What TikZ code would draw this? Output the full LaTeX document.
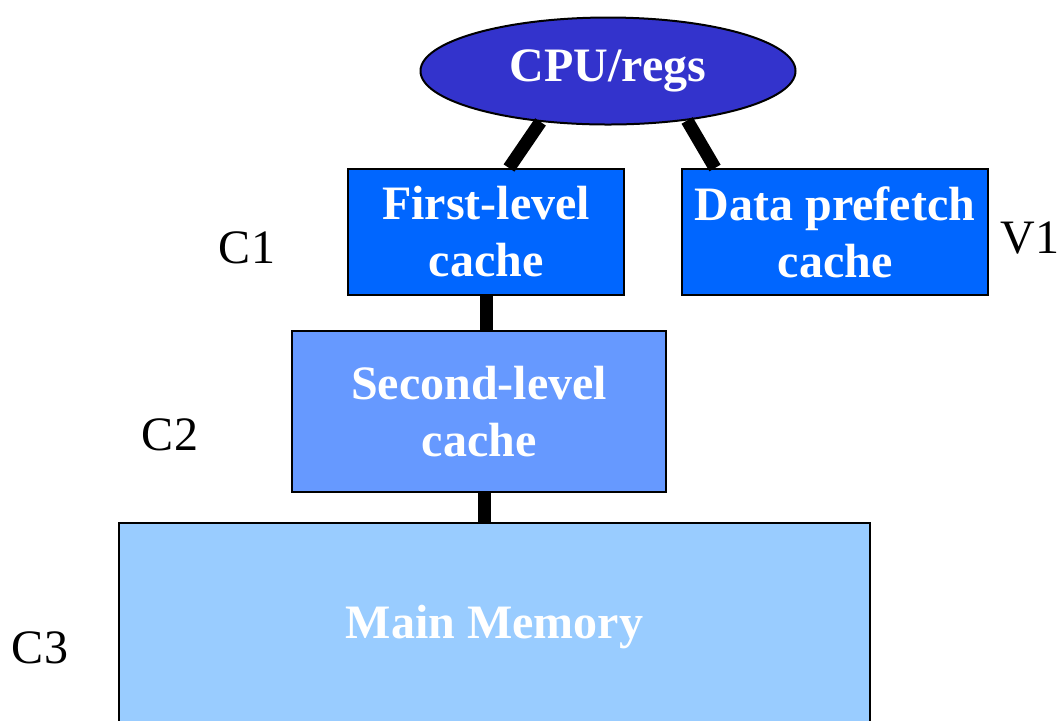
\documentclass[tikz,border=0pt]{standalone}
\usepackage{fontspec}
\setmainfont{Liberation Serif}
\usetikzlibrary{shapes.geometric, calc}

\definecolor{cpublue}{HTML}{3333CC}
\definecolor{lonecolor}{HTML}{0066FF}
\definecolor{ltwocolor}{HTML}{6699FF}
\definecolor{memcolor}{HTML}{99CCFF}

\begin{document}
\begin{tikzpicture}[x=0.5pt, y=-0.5pt,
	unit/.style={draw=black, line width=1pt, text=white, align=center, inner sep=0pt,
		font=\fontsize{24}{28.5}\selectfont\bfseries},
	level/.style={unit, rectangle},
	bus/.style={line width=6.5pt},
	tag/.style={font=\fontsize{24}{28}\selectfont}]
	\clip (0,0) rectangle (1059,720);

	% CPU
	\node[unit, ellipse, fill=cpublue, minimum width=187.5pt, minimum height=53.5pt] (cpu) at (608,71) {CPU/regs};

	% Caches
	\node[level, fill=lonecolor, minimum width=138pt, minimum height=63pt] (fl) at (486,232) {First-level\\cache};
	\node[level, fill=lonecolor, minimum width=153pt, minimum height=63pt] (dp) at (835,232) {Data prefetch\\cache};
	\node[level, fill=ltwocolor, minimum width=187pt, minimum height=80.5pt] (sl) at (479,411.5) {Second-level\\cache};

	% Main memory (runs off the bottom)
	\node[level, fill=memcolor, minimum width=375.5pt, minimum height=104pt] (mm) at (494.5,627) {Main Memory};

	% Connections
	\draw[bus] (cpu.217) -- ($(fl.north west)+(162,0)$);
	\draw[bus] (cpu.328) -- ($(dp.north west)+(34,0)$);
	\draw[bus] (fl.south) -- (fl.south |- sl.north);
	\coordinate (slbus) at ($(sl.south)+(5,0)$);
	\draw[bus] (slbus) -- (slbus |- mm.north);

	% Labels
	\node[tag] (c1) at (247,248) {C1};
	\node[tag] (v1) at (1030,238) {V1};
	\node[tag] (c2) at (170,435) {C2};
	\node[tag] (c3) at (40,648) {C3};
\end{tikzpicture}
\end{document}
